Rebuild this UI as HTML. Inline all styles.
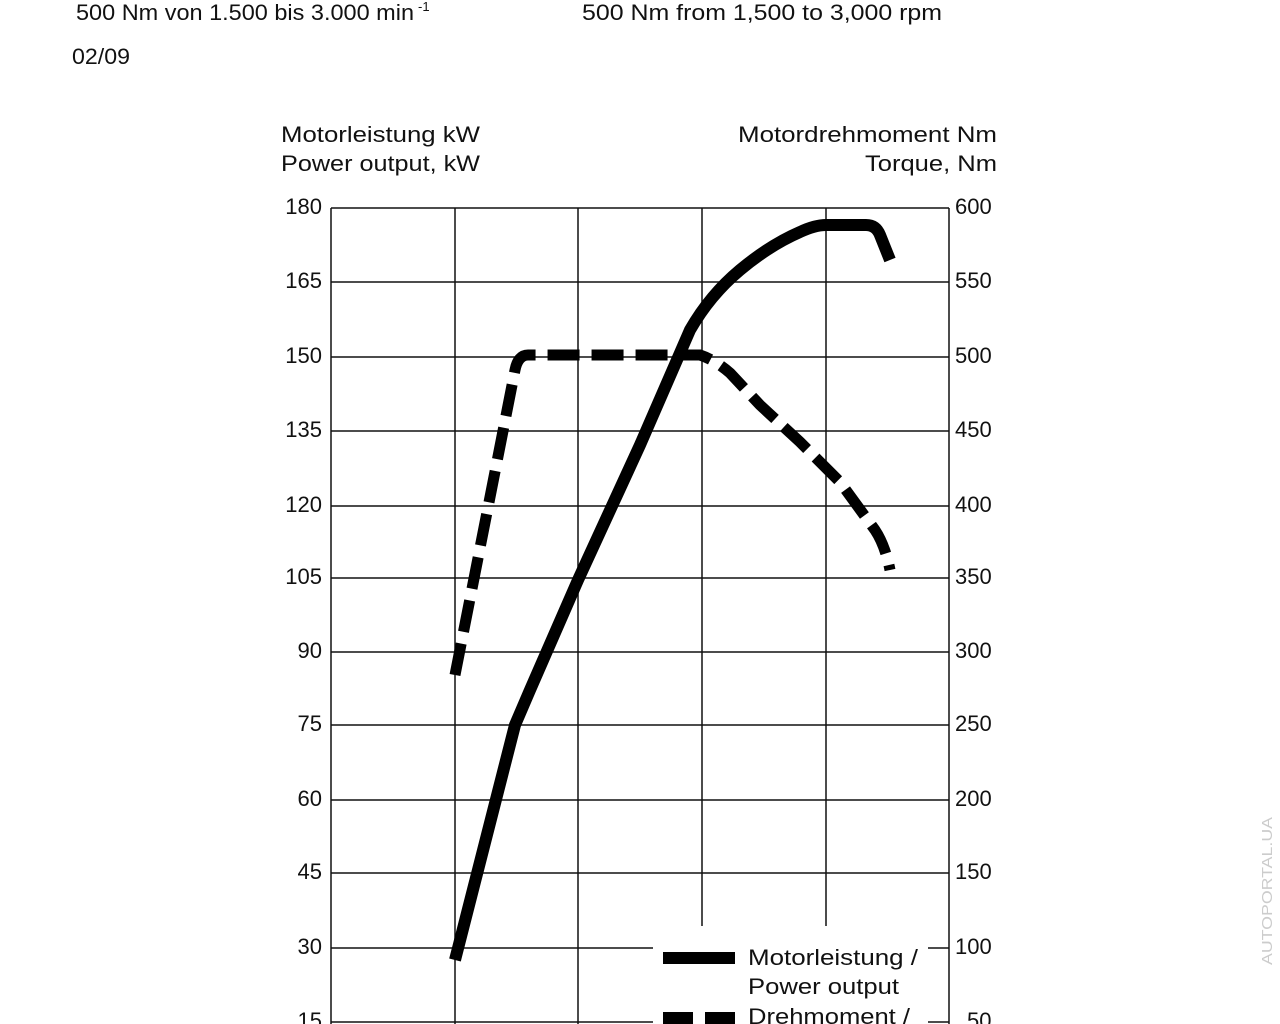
<!DOCTYPE html>
<html><head><meta charset="utf-8"><style>
body{margin:0;background:#fff;width:1280px;height:1024px;overflow:hidden}
svg{position:absolute;left:0;top:0}
</style></head><body>
<svg width="1280" height="1024" xmlns="http://www.w3.org/2000/svg" font-family="Liberation Sans, sans-serif">
<text x="76" y="20" font-size="22" fill="#111" textLength="338" lengthAdjust="spacingAndGlyphs">500 Nm von 1.500 bis 3.000 min</text>
<text x="418" y="11" font-size="13" fill="#111">-1</text>
<text x="582" y="20" font-size="22" fill="#111" textLength="360" lengthAdjust="spacingAndGlyphs">500 Nm from 1,500 to 3,000 rpm</text>
<text x="72" y="64" font-size="22" fill="#111" textLength="58" lengthAdjust="spacingAndGlyphs">02/09</text>
<g font-size="22" fill="#111">
<text x="281" y="142" textLength="199" lengthAdjust="spacingAndGlyphs">Motorleistung kW</text>
<text x="281" y="171" textLength="199" lengthAdjust="spacingAndGlyphs">Power output, kW</text>
<text x="738" y="142" textLength="259" lengthAdjust="spacingAndGlyphs">Motordrehmoment Nm</text>
<text x="865" y="171" textLength="132" lengthAdjust="spacingAndGlyphs">Torque, Nm</text>
</g>
<g stroke="#111" stroke-width="1.5" fill="none">
<line x1="331" y1="208" x2="331" y2="1024"/>
<line x1="949" y1="208" x2="949" y2="1024"/>
<line x1="455" y1="208" x2="455" y2="1024"/>
<line x1="578" y1="208" x2="578" y2="1024"/>
<line x1="702" y1="208" x2="702" y2="926"/>
<line x1="826" y1="208" x2="826" y2="926"/>
<line x1="331" y1="208" x2="949" y2="208"/>
<line x1="331" y1="282" x2="949" y2="282"/>
<line x1="331" y1="357" x2="949" y2="357"/>
<line x1="331" y1="431" x2="949" y2="431"/>
<line x1="331" y1="506" x2="949" y2="506"/>
<line x1="331" y1="578" x2="949" y2="578"/>
<line x1="331" y1="652" x2="949" y2="652"/>
<line x1="331" y1="725" x2="949" y2="725"/>
<line x1="331" y1="800" x2="949" y2="800"/>
<line x1="331" y1="873" x2="949" y2="873"/>
<line x1="331" y1="948" x2="653" y2="948"/>
<line x1="928" y1="948" x2="949" y2="948"/>
<line x1="331" y1="1022" x2="653" y2="1022"/>
<line x1="928" y1="1022" x2="949" y2="1022"/>
</g>
<g font-size="22" fill="#111" text-anchor="end">
<text x="322" y="214">180</text><text x="322" y="288">165</text><text x="322" y="363">150</text>
<text x="322" y="437">135</text><text x="322" y="512">120</text><text x="322" y="584">105</text>
<text x="322" y="658">90</text><text x="322" y="731">75</text><text x="322" y="806">60</text>
<text x="322" y="879">45</text><text x="322" y="954">30</text><text x="322" y="1028">15</text>
</g>
<g font-size="22" fill="#111">
<text x="955" y="214">600</text><text x="955" y="288">550</text><text x="955" y="363">500</text>
<text x="955" y="437">450</text><text x="955" y="512">400</text><text x="955" y="584">350</text>
<text x="955" y="658">300</text><text x="955" y="731">250</text><text x="955" y="806">200</text>
<text x="955" y="879">150</text><text x="955" y="954">100</text><text x="967" y="1028">50</text>
</g>
<path d="M455,960 L515,725 L530,690 L578,580 L640,445 L690,330 Q710,295 740,270 Q770,245 800,232 Q815,225 826,225 L866,225 Q876,225 880,235 L890,260" stroke="#000" stroke-width="12" fill="none" stroke-linejoin="round"/>
<path d="M455,675 L515,370 Q518,355 528,355 L700,355 Q715,360 730,373 L760,405 L800,442 L840,482 L875,530 Q885,545 890,570" stroke="#000" stroke-width="11" fill="none" stroke-dasharray="32,12"/>
<rect x="663" y="952" width="72" height="12" fill="#000"/>
<rect x="663" y="1012" width="30" height="12" fill="#000"/>
<rect x="705" y="1012" width="30" height="12" fill="#000"/>
<g font-size="22" fill="#111">
<text x="748" y="965" textLength="170" lengthAdjust="spacingAndGlyphs">Motorleistung /</text>
<text x="748" y="994" textLength="151" lengthAdjust="spacingAndGlyphs">Power output</text>
<text x="748" y="1024" textLength="162" lengthAdjust="spacingAndGlyphs">Drehmoment /</text>
</g>
<text transform="translate(1272,965) rotate(-90)" font-size="15" fill="#ccc" textLength="148" lengthAdjust="spacingAndGlyphs">AUTOPORTAL.UA</text>
</svg>
</body></html>
